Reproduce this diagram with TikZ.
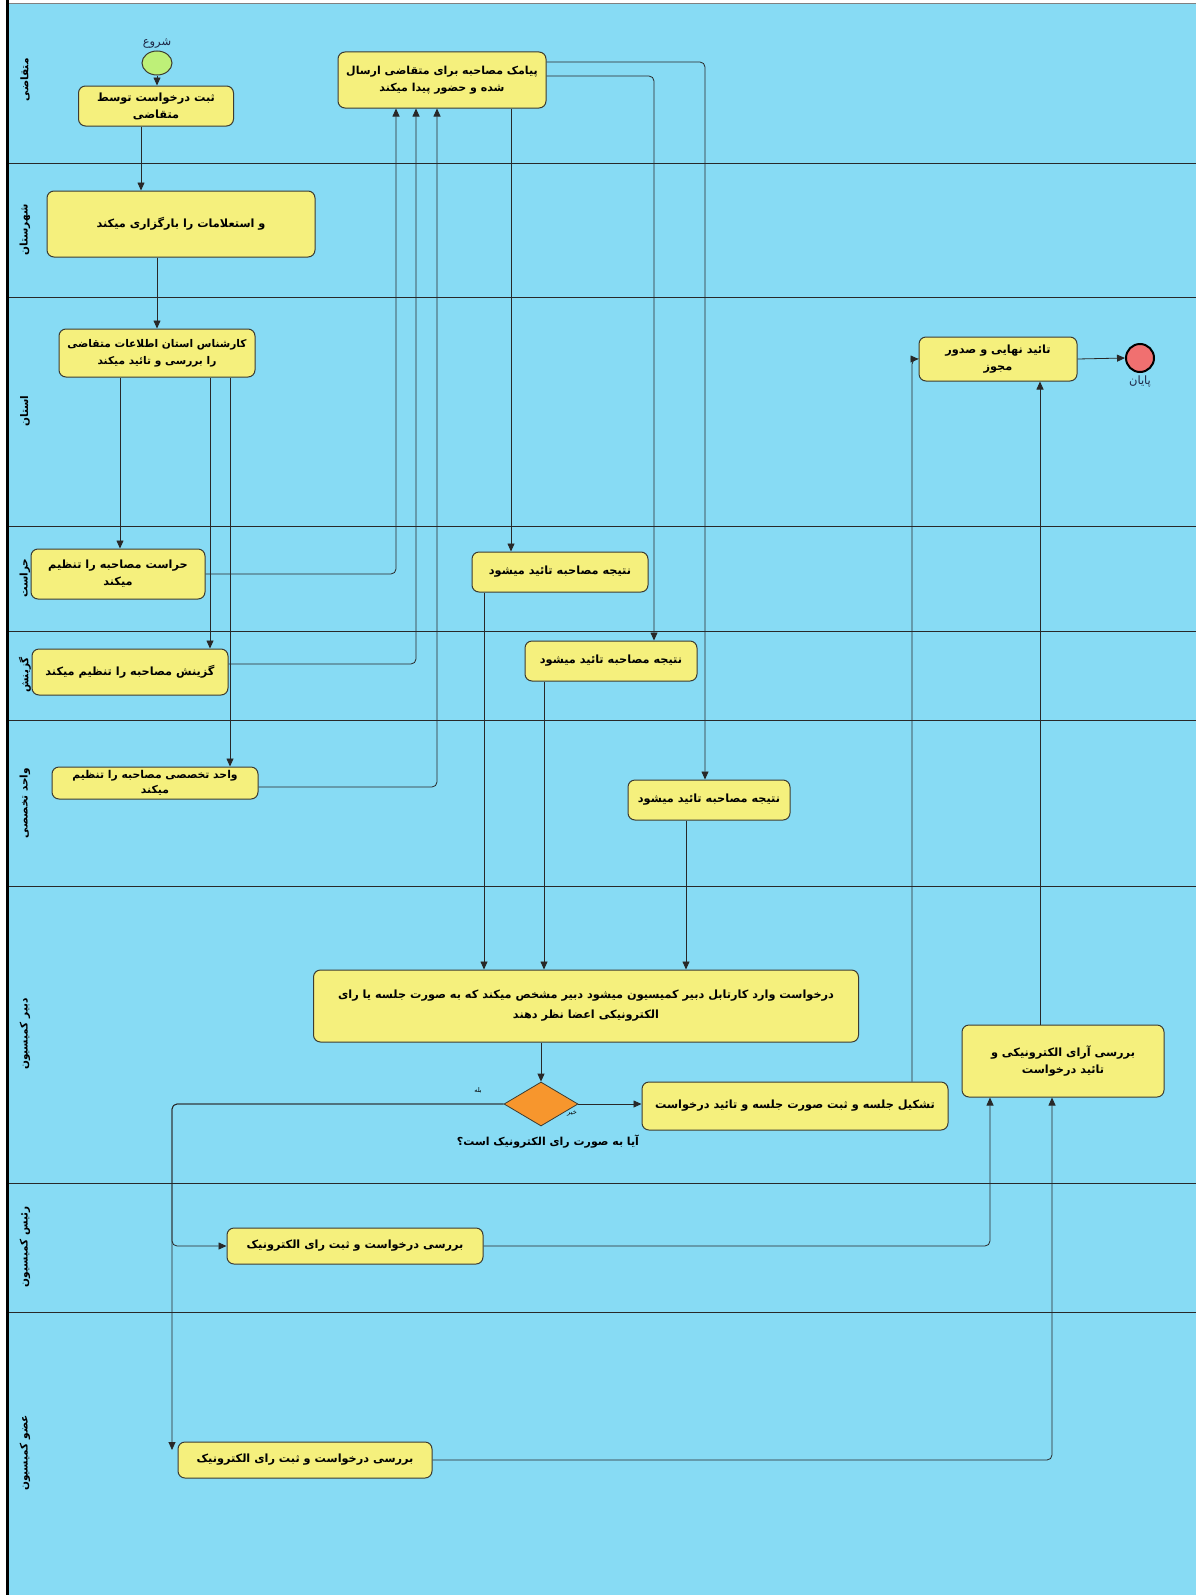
\documentclass[tikz,border=0pt]{standalone}
\usepackage{fontspec}
\setmainfont{DejaVu Sans}
\newfontfamily\arabicfont[Script=Arabic]{DejaVu Sans}
\TeXXeTstate=1
\usetikzlibrary{arrows.meta,shapes.geometric,calc}
\definecolor{lanebg}{RGB}{135,219,244}
\definecolor{boxfill}{RGB}{245,240,125}
\definecolor{boxline}{RGB}{60,60,50}
\definecolor{gwfill}{RGB}{247,150,45}
\definecolor{startfill}{RGB}{190,240,120}
\definecolor{endfill}{RGB}{240,112,112}
\definecolor{linecol}{RGB}{40,40,40}
\definecolor{lblcol}{RGB}{30,40,70}
\newcommand{\fa}[1]{{\arabicfont\bfseries\beginR #1\endR}}
\newcommand{\fn}[1]{{\arabicfont\beginR #1\endR}}
\begin{document}
\begin{tikzpicture}[x=1pt,y=-1pt,
  box/.style={draw=boxline,fill=boxfill,rounded corners=7pt,line width=1pt,align=center,inner sep=1pt,font=\fontsize{11.3}{17}\selectfont},
  arr/.style={draw=linecol,line width=0.8pt,rounded corners=5pt,-{Triangle[length=8pt,width=7pt]}},
  laneline/.style={draw=linecol,line width=0.7pt},
  lanelbl/.style={rotate=90,font=\fontsize{10.5}{12}\selectfont},
  evlbl/.style={text=lblcol,font=\fontsize{11.5}{12}\selectfont},
  small/.style={font=\fontsize{6.5}{7}\selectfont}]
\useasboundingbox (0,0) rectangle (1196,1595);
\fill[lanebg] (7,3) rectangle (1196,1595);
\draw[line width=0.8pt,gray] (7,3) -- (1196,3);
\foreach \yy in {163,297,526,631,720,886,1183,1312}{\draw[laneline] (7,\yy) -- (1196,\yy);}
\draw[line width=3pt,black] (7,0) -- (7,1595);
% lane labels
\node[lanelbl] (l1) at (25,80) {\fa{متقاضی}};
\node[lanelbl] (l2) at (25,230) {\fa{شهرستان}};
\node[lanelbl] (l3) at (25,411) {\fa{استان}};
\node[lanelbl] (l4) at (25,578) {\fa{حراست}};
\node[lanelbl] (l5) at (25,675) {\fa{گزینش}};
\node[lanelbl] (l6) at (25,803) {\fa{واحد تخصصی}};
\node[lanelbl] (l7) at (25,1034) {\fa{دبیر کمیسیون}};
\node[lanelbl] (l8) at (25,1247) {\fa{رئیس کمیسیون}};
\node[lanelbl] (l9) at (25,1453) {\fa{عضو کمیسیون}};
% events
\node[ellipse,draw=boxline,fill=startfill,line width=1pt,minimum width=30pt,minimum height=24pt,inner sep=0] (start) at (157,63) {};
\node[evlbl] (startlbl) at (157,44) {\fn{شروع}};
\node[circle,draw=black,fill=endfill,line width=2pt,minimum size=28pt,inner sep=0] (end) at (1140,358) {};
\node[evlbl] (endlbl) at (1140,382) {\fn{پایان}};
% tasks
\node[box,minimum width=155pt,minimum height=40pt] (n1) at (156,106) {\fa{ثبت درخواست توسط}\\\fa{متقاضی}};
\node[box,minimum width=268pt,minimum height=66pt] (n2) at (181,224) {\fa{و استعلامات را بارگزاری میکند}};
\node[box,minimum width=196pt,minimum height=48pt,font=\fontsize{10.6}{17}\selectfont] (n3) at (157,353) {\fa{کارشناس استان اطلاعات متقاضی}\\\fa{را بررسی و تائید میکند}};
\node[box,minimum width=174pt,minimum height=50pt] (n4) at (118,574) {\fa{حراست مصاحبه را تنظیم}\\\fa{میکند}};
\node[box,minimum width=196pt,minimum height=46pt] (n5) at (130,672) {\fa{گزینش مصاحبه را تنظیم میکند}};
\node[box,minimum width=206pt,minimum height=32pt,inner sep=0pt,font=\fontsize{10.8}{14.5}\selectfont] (n6) at (155,783) {\fa{واحد تخصصی مصاحبه را تنظیم}\\\fa{میکند}};
\node[box,minimum width=208pt,minimum height=56pt,font=\fontsize{11}{17}\selectfont] (n7) at (442,80) {\fa{پیامک مصاحبه برای متقاضی ارسال}\\\fa{شده و حضور پیدا میکند}};
\node[box,minimum width=176pt,minimum height=40pt] (n8) at (560,572) {\fa{نتیجه مصاحبه تائید میشود}};
\node[box,minimum width=172pt,minimum height=40pt] (n9) at (611,661) {\fa{نتیجه مصاحبه تائید میشود}};
\node[box,minimum width=162pt,minimum height=40pt] (n10) at (709,800) {\fa{نتیجه مصاحبه تائید میشود}};
\node[box,minimum width=545pt,minimum height=72pt,font=\fontsize{11.3}{20}\selectfont] (n11) at (586,1006) {\fa{درخواست وارد کارتابل دبیر کمیسیون میشود دبیر مشخص میکند که به صورت جلسه یا رای}\\\fa{الکترونیکی اعضا نظر دهند}};
\node[diamond,draw=boxline,fill=gwfill,line width=0.8pt,minimum width=74pt,minimum height=44pt,inner sep=0] (d) at (541,1104) {};
\node[font=\fontsize{11}{12}\selectfont] (dlbl) at (548,1142) {\fa{آیا به صورت رای الکترونیک است؟}};
\node[small] (yes) at (478,1090) {\fn{بله}};
\node[small] (no) at (572,1114) {\fn{خیر}};
\node[box,minimum width=306pt,minimum height=48pt] (n12) at (795,1106) {\fa{تشکیل جلسه و ثبت صورت جلسه و تائید درخواست}};
\node[box,minimum width=202pt,minimum height=72pt] (n13) at (1063,1061) {\fa{بررسی آرای الکترونیکی و}\\\fa{تائید درخواست}};
\node[box,minimum width=256pt,minimum height=36pt] (n14) at (355,1246) {\fa{بررسی درخواست و ثبت رای الکترونیک}};
\node[box,minimum width=254pt,minimum height=36pt] (n15) at (305,1460) {\fa{بررسی درخواست و ثبت رای الکترونیک}};
\node[box,minimum width=158pt,minimum height=44pt] (n16) at (998,359) {\fa{تائید نهایی و صدور}\\\fa{مجوز}};
\coordinate (c15) at (172,1450);
% connectors
\draw[arr] (start.south) -- (start.south |- n1.north);
\draw[arr] (141,0 |- n1.south) -- (141,0 |- n2.north);
\draw[arr] (157,0 |- n2.south) -- (157,0 |- n3.north);
\draw[arr] (120,0 |- n3.south) -- (120,0 |- n4.north);
\draw[arr] (210,0 |- n3.south) -- (210,0 |- n5.north);
\draw[arr] (230,0 |- n3.south) -- (230,0 |- n6.north);
\draw[arr] (n4.east) -| (396,0 |- n7.south);
\draw[arr] ([yshift=8pt]n5.east) -| (416,0 |- n7.south);
\draw[arr] ([yshift=-4pt]n6.east) -| (437,0 |- n7.south);
\draw[arr] (511,0 |- n7.south) -- (511,0 |- n8.north);
\draw[arr] (n7.east |- 0,62) -| (705,0 |- n10.north);
\draw[arr] (n7.east |- 0,76) -| (654,0 |- n9.north);
\draw[arr] (484,0 |- n8.south) -- (484,0 |- n11.north);
\draw[arr] (544,0 |- n9.south) -- (544,0 |- n11.north);
\draw[arr] (686,0 |- n10.south) -- (686,0 |- n11.north);
\draw[arr] (d.north |- n11.south) -- (d.north);
\draw[arr] (d.east) -- (d.east -| n12.west);
\draw[arr] (d.west) -| (172,0 |- n14.west) -- (n14.west);
\draw[arr] (d.west) -| (c15);
\draw[arr] (n14.east) -| (990,0 |- n13.south);
\draw[arr] (n15.east) -| (1052,0 |- n13.south);
\draw[arr] (912,0 |- n12.north) |- (n16.west);
\draw[arr] (1040,0 |- n13.north) -- (1040,0 |- n16.south);
\draw[arr] (n16.east) -- (end.west);
\end{tikzpicture}
\end{document}
